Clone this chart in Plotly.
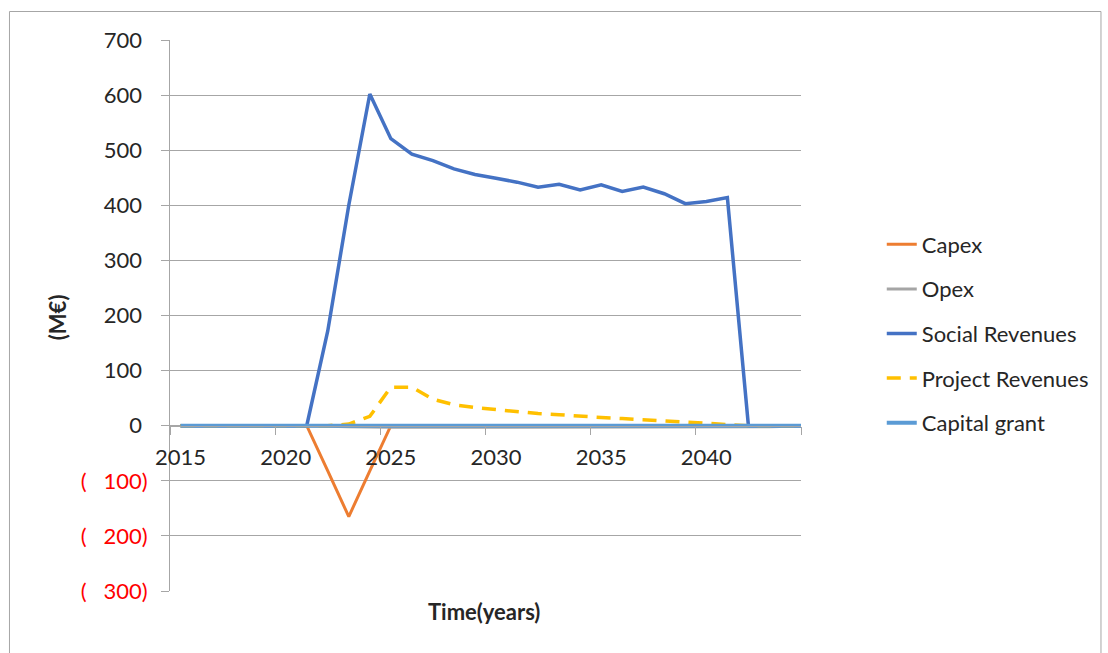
import plotly.graph_objects as go

years = list(range(2015, 2046))
capex = [0, 0, 0, 0, 0, 0, 0, -82, -165, -82, 0, 0, 0, 0, 0, 0,
         0, 0, 0, 0, 0, 0, 0, 0, 0, 0, 0, 0, 0, 0, 0]
opex = [0, 0, 0, 0, 0, 0, 0, -1, -2, -3, -3, -3, -3, -3, -3, -3,
        -3, -3, -3, -3, -3, -3, -3, -3, -3, -3, -3, -3, -2, -1, 0]
social_revenues = [0, 0, 0, 0, 0, 0, 0, 172, 400, 602, 521, 493, 481, 466, 456, 449,
                   442, 433, 438, 428, 437, 425, 433, 421, 403, 407, 414, 0, 0, 0, 0]
project_revenues = [0, 0, 0, 0, 0, 0, 0, 0, 3, 17, 70, 70, 48, 38, 33, 29,
                    26, 22, 20, 17, 15, 13, 11, 8, 6, 4, 2, 0, 0, 0, 0]
capital_grant = [0] * 31

x_label_years = [2015, 2020, 2025, 2030, 2035, 2040]
x_boundaries = [2014.5, 2019.5, 2024.5, 2029.5, 2034.5, 2039.5, 2044.5]
y_ticks = [-300, -200, -100, 0, 100, 200, 300, 400, 500, 600, 700]

FONT = "Lato"
FS = 22
TXT = "#262626"
GRID = "#A6A6A6"


def ylabel(v):
    if v < 0:
        return "<span style='color:#FF0000'>(\u00a0\u00a0\u00a0%d)</span>" % (-v)
    return "%d\u00a0" % v


series = [
    ("Capex", capex, dict(color="#ED7D31", width=3)),
    ("Opex", opex, dict(color="#A5A5A5", width=3)),
    ("Social Revenues", social_revenues, dict(color="#4472C4", width=3.5)),
    ("Project Revenues", project_revenues, dict(color="#FFC000", width=3.5, dash="14px,9px")),
    ("Capital grant", capital_grant, dict(color="#5B9BD5", width=4)),
]

fig = go.Figure()
for name, vals, line in series:
    fig.add_trace(go.Scatter(x=years, y=vals, name=name, mode="lines", line=line,
                             legendgroup=name))

fig.update_layout(
    width=1108, height=653,
    margin=dict(l=170, r=307, t=40, b=62),
    paper_bgcolor="white", plot_bgcolor="white",
    font=dict(family=FONT, size=FS, color=TXT),
    showlegend=True,
    legend=dict(x=1.128, xanchor="left", y=0.667, yanchor="top",
                font=dict(family=FONT, size=FS, color=TXT),
                tracegroupgap=13, bgcolor="rgba(0,0,0,0)"),
    xaxis=dict(range=[2014.5, 2044.5], tickvals=x_label_years,
               ticktext=[str(v) for v in x_label_years],
               ticks="", showgrid=False, zeroline=False,
               showline=True, linecolor=GRID, linewidth=1,
               anchor="free", position=0.3,
               ticklabelstandoff=12,
               minor=dict(tickvals=x_boundaries, ticks="outside", ticklen=8,
                          tickcolor=GRID, showgrid=False),
               tickfont=dict(family=FONT, size=FS, color=TXT)),
    yaxis=dict(range=[-300, 700], tickvals=y_ticks,
               ticktext=[ylabel(v) for v in y_ticks],
               showgrid=True, gridcolor=GRID, gridwidth=1,
               zeroline=False, showline=True, linecolor=GRID, linewidth=1,
               ticks="outside", ticklen=8, tickcolor=GRID,
               ticklabelstandoff=9,
               tickfont=dict(family=FONT, size=FS, color=TXT)),
    annotations=[
        dict(text="<b>(M€)</b>", xref="paper", yref="paper", x=-0.179, y=0.497,
             xanchor="center", yanchor="middle",
             textangle=-90, showarrow=False, font=dict(family=FONT, size=FS, color=TXT)),
        dict(text="<b>Time(years)</b>", xref="paper", yref="paper", x=0.4976, y=-0.0363,
             xanchor="center", yanchor="middle",
             showarrow=False, font=dict(family=FONT, size=FS, color=TXT)),
    ],
    shapes=[
        dict(type="rect", xref="paper", yref="paper", x0=-0.2544, x1=1.4754,
             y0=-0.2, y1=1.0517, line=dict(color="#A6A6A6", width=1),
             fillcolor="rgba(0,0,0,0)", layer="below"),
    ],
)

fig.write_html("out.html")
